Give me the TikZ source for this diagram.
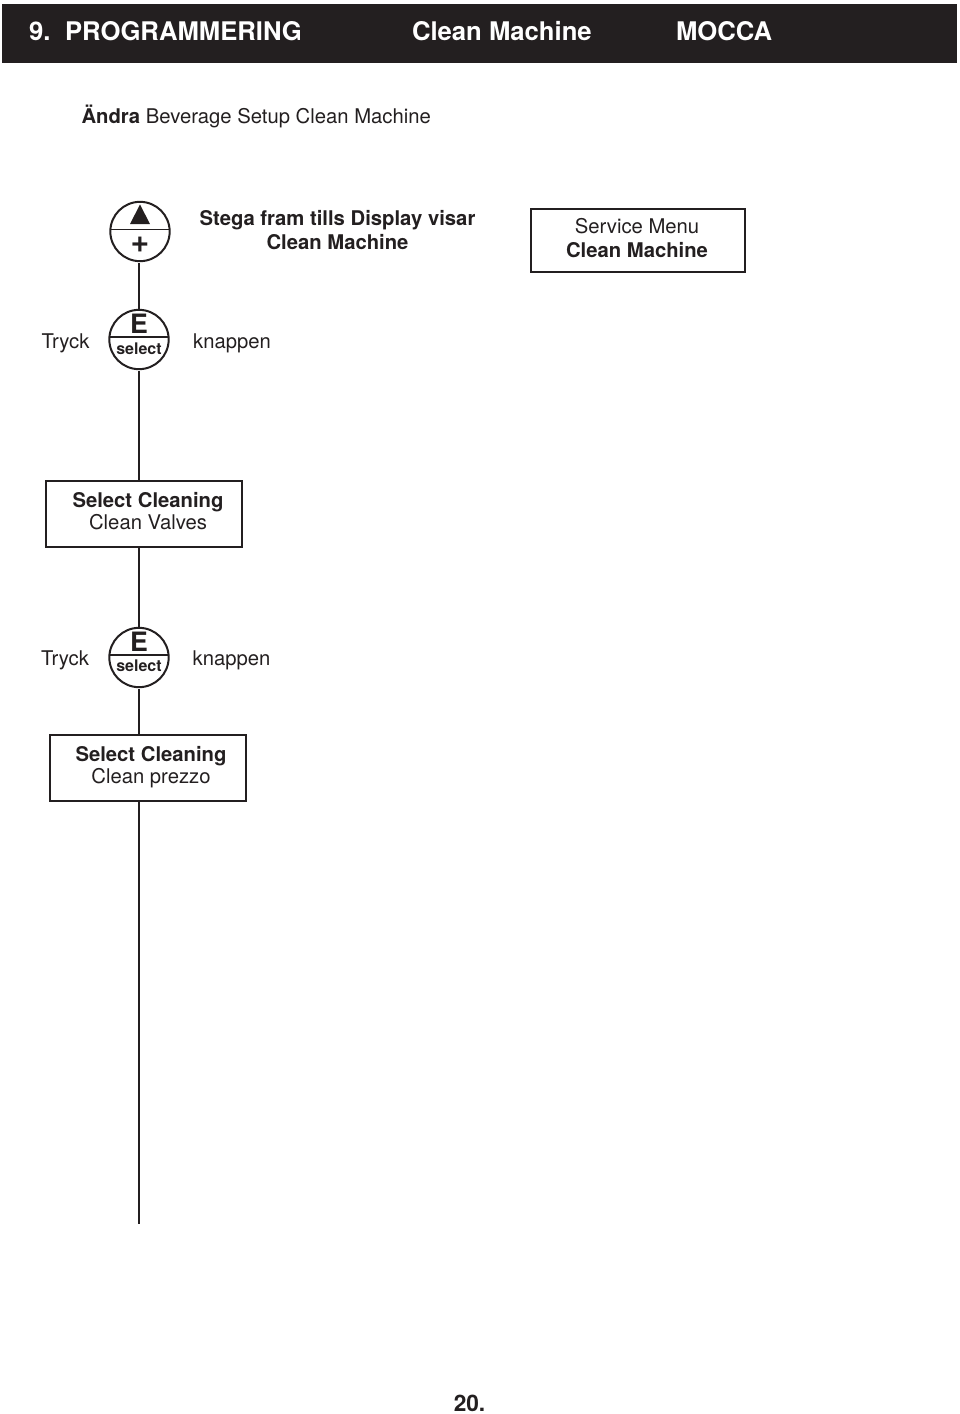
\documentclass[tikz,border=0pt]{standalone}
\usepackage{fontspec}
\setmainfont{TeX Gyre Heros}
\newcommand{\pxsize}[1]{\fontsize{#1}{#1}\selectfont}
\definecolor{ink}{HTML}{231F20}
\tikzset{
  every node/.style={inner sep=0pt,outer sep=0pt},
  head/.style={anchor=base west,text=white,font=\pxsize{19.25}\bfseries},
  txt/.style={text=ink,font=\pxsize{15.2},anchor=base},
  btxt/.style={txt,font=\pxsize{15.2}\bfseries},
  frame/.style={draw=ink,line width=1.5pt,rectangle,anchor=north west},
  btn/.style={draw=ink,line width=1.5pt,circle,minimum size=44.5pt},
  conn/.style={draw=ink,line width=1.3pt},
  gapconn/.style={conn,shorten <=1.5pt},
  divider/.style={draw=ink,line width=1.4pt},
  bigE/.style={font=\pxsize{20}\bfseries,text=ink,anchor=base},
  sellabel/.style={font=\pxsize{12}\bfseries,text=ink,anchor=base}
}
\begin{document}
\begin{tikzpicture}[x=0.75pt,y=-0.75pt]
\useasboundingbox (0,0) rectangle (960,1414);
% header
\fill[ink] (2,4) rectangle (957,63);
\node[head] (h1) at (29,40) {9.};
\node[head] (h2) at (65,40) {PROGRAMMERING};
\node[head] (h3) at (412,40) {Clean Machine};
\node[head] (h4) at (676,40) {MOCCA};
\node[txt,anchor=base west] (title) at (81.5,123) {\textbf{Ändra} Beverage Setup Clean Machine};
% plus button
\node[btn] (bplus) at (140,231.5) {};
\draw[divider] (bplus.center)+(-29.5,-2) -- +(29.5,-2);
\fill[ink] (140,204.5) -- (150,224) -- (130,224) -- cycle;
\node[font=\pxsize{24}\bfseries,text=ink,anchor=base] (plus) at (140,252) {+};
\node[btxt] (s1) at (337.5,225) {Stega fram tills Display visar};
\node[btxt] (s2) at (337.5,249) {Clean Machine};
% service box
\node[frame,minimum width=161pt,minimum height=47pt] (svc) at (530.5,209) {};
\node[txt] (svc1) at (637,233) {Service Menu};
\node[btxt] (svc2) at (637,257) {Clean Machine};
% select button 1
\node[btn] (sel1) at (139,339.5) {};
\draw[divider] (sel1.center)+(-29.5,-2.5) -- +(29.5,-2.5);
\node[bigE] (e1) at (139,333.5) {E};
\node[sellabel] (l1) at (139,354) {select};
\node[txt] (t1) at (65.5,348) {Tryck};
\node[txt] (k1) at (232,348) {knappen};
% box 1
\node[frame,minimum width=147pt,minimum height=49.5pt] (box1) at (46,480.5) {};
\node[btxt] (b1a) at (148,507) {Select Cleaning};
\node[txt] (b1b) at (148,529) {Clean Valves};
% select button 2
\node[btn] (sel2) at (139,657.5) {};
\draw[divider] (sel2.center)+(-29.5,-2.5) -- +(29.5,-2.5);
\node[bigE] (e2) at (139,651) {E};
\node[sellabel] (l2) at (139,671) {select};
\node[txt] (t2) at (65,665) {Tryck};
\node[txt] (k2) at (231.5,665) {knappen};
% box 2
\node[frame,minimum width=147pt,minimum height=49.5pt] (box2) at (49.5,735) {};
\node[btxt] (b2a) at (151,761) {Select Cleaning};
\node[txt] (b2b) at (151,783) {Clean prezzo};
% connectors
\coordinate (end) at (138.7,1224);
\draw[gapconn] (bplus.south -| sel1.north) -- (sel1.north);
\draw[gapconn] (sel1.south) -- (sel1.south |- box1.north);
\draw[conn] (sel1.south |- box1.south) -- (sel2.north);
\draw[gapconn] (sel2.south) -- (sel2.south |- box2.north);
\draw[conn] (sel2.south |- box2.south) -- (sel2.south |- end);
% page number
\node[txt,font=\pxsize{17}\bfseries] (pg) at (469.5,1411.5) {20.};
\end{tikzpicture}
\end{document}
